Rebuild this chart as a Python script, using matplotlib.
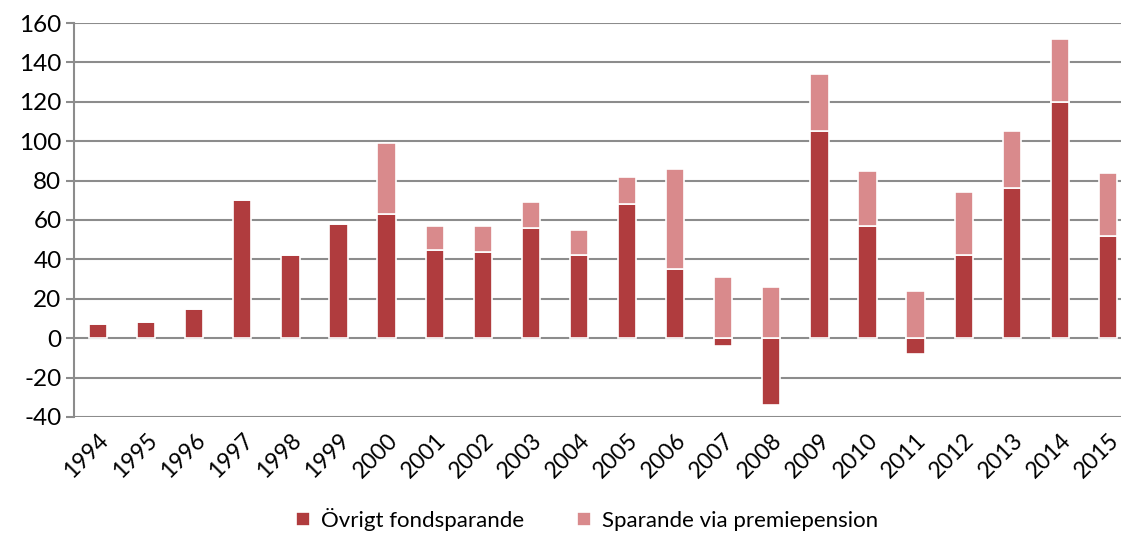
import matplotlib.pyplot as plt
import numpy as np

plt.rcParams['font.family'] = ['Lato', 'DejaVu Sans']
plt.rcParams['axes.unicode_minus'] = False

years = [str(y) for y in range(1994, 2016)]
ovrigt = [7, 8, 15, 70, 42, 58, 63, 45, 44, 56, 42, 68, 35, -4, -34, 105, 57, -8, 42, 76, 120, 52]
premie = [0, 0, 0, 0, 0, 0, 36, 12, 13, 13, 13, 14, 51, 31, 26, 29, 28, 24, 32, 29, 32, 32]

dark = '#b03c3e'
light = '#d98a8c'
grid_c = '#8c8c8c'

ovrigt = np.array(ovrigt)
premie = np.array(premie)
x = np.arange(len(years))
# positive stack starts from zero, like the spreadsheet does
base = np.where(ovrigt > 0, ovrigt, 0)

fig = plt.figure(figsize=(11.21, 5.35), dpi=100)
ax = fig.add_axes([0.066, 0.2206, 0.934, 0.7364])

w = 0.38
ax.bar(x, ovrigt, w, color=dark, edgecolor='white', linewidth=1.2,
       label='Övrigt fondsparande', zorder=3)
ax.bar(x, premie, w, bottom=base, color=light, edgecolor='white', linewidth=1.2,
       label='Sparande via premiepension', zorder=3)

ax.set_ylim(-40, 160)
ax.set_yticks(range(-40, 161, 20))
ax.set_xlim(-0.5, 21.27)
ax.set_xticks(x)
ax.set_xticklabels(years, rotation=45, ha='right', rotation_mode='anchor')

ax.yaxis.grid(True, color=grid_c, linewidth=1.5, zorder=0)
for s in ['top', 'right', 'bottom']:
    ax.spines[s].set_visible(False)
ax.spines['left'].set_color(grid_c)
ax.spines['left'].set_linewidth(1.5)
ax.tick_params(axis='y', length=6, width=1.5, color=grid_c, labelsize=17.5, pad=3)
ax.tick_params(axis='x', length=0, labelsize=16.5, pad=9)

ax.legend(loc='lower center', bbox_to_anchor=(0.49, -0.34), ncol=2, frameon=False,
          fontsize=16, handlelength=0.6, handleheight=0.6, columnspacing=2.4,
          handletextpad=0.5)

fig.savefig('out.png', dpi=100)
